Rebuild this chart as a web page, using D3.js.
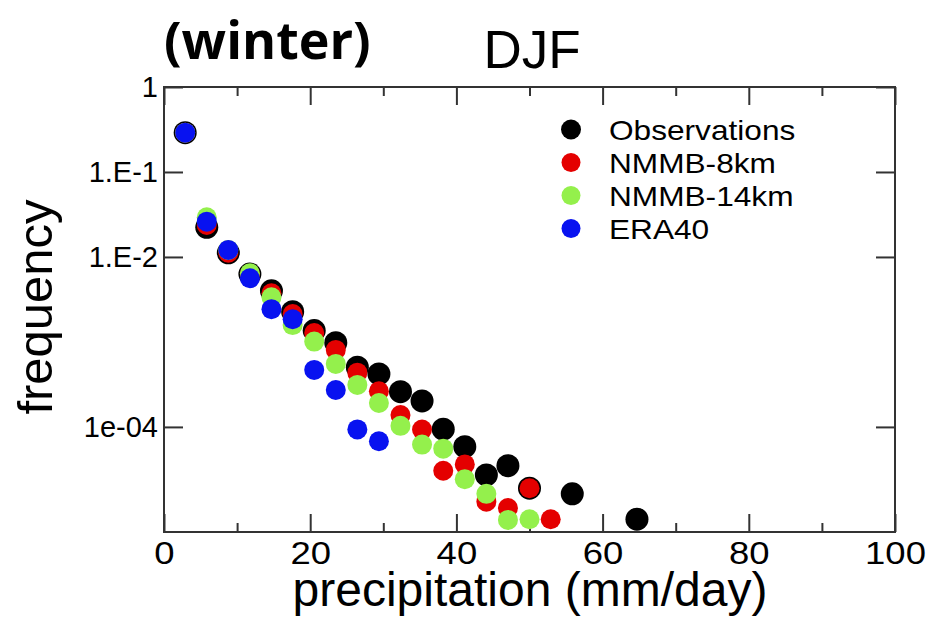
<!DOCTYPE html>
<html>
<head>
<meta charset="utf-8">
<script src="https://cdn.jsdelivr.net/npm/d3@7"></script>
<style>
body { margin: 0; background: #fff; }
svg { display: block; }
</style>
</head>
<body>
<script>
// bin centres (mm/day)
let precip = [2.9, 5.85, 8.8, 11.75, 14.7, 17.6, 20.55, 23.5, 26.45, 29.4, 32.35, 35.3, 38.2, 41.15, 44.1, 47.05, 50.0, 52.9, 55.85, 64.7]

let observations = [0.29, 0.0223, 0.0112, 0.0063, 0.0040, 0.00227, 0.00136, 0.00098, 0.000504, 0.00042, 0.00026, 0.000202, 9.4e-5, 5.86e-5, 2.72e-5, 3.5e-5, 1.9e-5, null, 1.63e-5, 8.2e-6]
let nmmb8 = [0.29, 0.0238, 0.0112, 0.0063, 0.00374, 0.00213, 0.00127, 0.000805, 0.000435, 0.000263, 0.000138, 9.3e-5, 3.05e-5, 3.62e-5, 1.32e-5, 1.11e-5, 1.9e-5, 8.2e-6, null, null]
let nmmb14 = [0.29, 0.0293, 0.0121, 0.00643, 0.00335, 0.00158, 0.00101, 0.000551, 0.000312, 0.000191, 0.000103, 6.19e-5, 5.55e-5, 2.43e-5, 1.63e-5, 8.05e-6, 8.2e-6, null, null, null]
let era40 = [0.29, 0.026, 0.0121, 0.00561, 0.00243, 0.00185, 0.000469, 0.000272, 9.35e-5, 6.79e-5, null, null, null, null, null, null, null, null, null, null]

let seriesNames = ["Observations", "NMMB-8km", "NMMB-14km", "ERA40"]
let seriesColors = ["#000000", "#e40000", "#94f04c", "#0812f0"]
let seriesValues = [observations, nmmb8, nmmb14, era40]

let xMajor = [0, 20, 40, 60, 80, 100]
let xMinor = [10, 30, 50, 70, 90]
let yTicks = [1, 1e-1, 1e-2, 1e-4]
let yTickLabels = ["1", "1.E-1", "1.E-2", "1e-04"]

let w = 926
let h = 623
let plotLeft = 164, plotRight = 895, plotTop = 87, plotBottom = 532
let font = "'Liberation Sans', Arial, sans-serif"

let svg = d3.select("body").append("svg")
  .attr("width", w)
  .attr("height", h)

let x = d3.scaleLinear().domain([0, 100]).range([plotLeft, plotRight])
let y = d3.scaleLog().domain([5.8e-6, 1]).range([plotBottom, plotTop])

// axes, ticks point inwards
let styleAxis = (g)=>{
  g.select(".domain").remove()
  g.selectAll(".tick line").attr("stroke", "#333").attr("stroke-width", 2)
  g.selectAll("text").attr("fill", "#000").style("font-family", font)
}

svg.append("g")
  .attr("transform", "translate(0," + plotBottom + ")")
  .call(d3.axisBottom(x).tickValues(xMajor).tickSize(-18).tickPadding(9).tickFormat(d3.format("d")))
  .call(styleAxis)
  .selectAll("text")
  .style("font-size", "32px")
  .attr("transform", "scale(1.14,1)")

svg.append("g")
  .attr("transform", "translate(0," + plotBottom + ")")
  .call(d3.axisBottom(x).tickValues(xMinor).tickSize(-9).tickFormat(""))
  .call(styleAxis)

svg.append("g")
  .attr("transform", "translate(0," + plotTop + ")")
  .call(d3.axisTop(x).tickValues(xMajor).tickSize(-18).tickFormat(""))
  .call(styleAxis)

svg.append("g")
  .attr("transform", "translate(0," + plotTop + ")")
  .call(d3.axisTop(x).tickValues(xMinor).tickSize(-9).tickFormat(""))
  .call(styleAxis)

svg.append("g")
  .attr("transform", "translate(" + plotLeft + ",0)")
  .call(d3.axisLeft(y).tickValues(yTicks).tickSize(-19).tickPadding(6)
    .tickFormat((d, i)=>yTickLabels[i]))
  .call(styleAxis)
  .selectAll("text").style("font-size", "29px")

svg.append("g")
  .attr("transform", "translate(" + plotRight + ",0)")
  .call(d3.axisRight(y).tickValues(yTicks).tickSize(-19).tickFormat(""))
  .call(styleAxis)

// frame
svg.append("rect")
  .attr("x", plotLeft)
  .attr("y", plotTop)
  .attr("width", plotRight - plotLeft)
  .attr("height", plotBottom - plotTop)
  .attr("fill", "none")
  .attr("stroke", "#333")
  .attr("stroke-width", 2)

// points, observations first so the models sit on top
seriesValues.forEach((vals, s)=>{
  let pts = precip.map((p, i)=>[p, vals[i]]).filter((d)=>d[1] != null)
  svg.append("g")
    .selectAll("circle")
    .data(pts)
    .enter()
    .append("circle")
    .attr("cx", (d)=>x(d[0]))
    .attr("cy", (d)=>y(d[1]))
    .attr("r", s == 0 ? 11.5 : 10)
    .attr("fill", seriesColors[s])
})

// legend
let legend = svg.append("g")
seriesNames.forEach((name, i)=>{
  let ly = 129.5 + i * 33
  legend.append("circle")
    .attr("cx", 571)
    .attr("cy", ly)
    .attr("r", i == 0 ? 10 : 9.5)
    .attr("fill", seriesColors[i])
  legend.append("text")
    .attr("transform", "translate(609," + (ly + 10) + ") scale(1.13,1)")
    .text(name)
    .style("font-family", font)
    .style("font-size", "28px")
})

// axis titles
svg.append("text")
  .attr("x", 530)
  .attr("y", 606)
  .attr("text-anchor", "middle")
  .text("precipitation (mm/day)")
  .style("font-family", font)
  .style("font-size", "48px")

svg.append("text")
  .attr("transform", "translate(52,307) rotate(-90)")
  .attr("text-anchor", "middle")
  .text("frequency")
  .style("font-family", font)
  .style("font-size", "49px")

svg.append("text")
  .attr("x", 532)
  .attr("y", 68)
  .attr("text-anchor", "middle")
  .text("DJF")
  .style("font-family", font)
  .style("font-size", "53px")

svg.append("text")
  .attr("x", 164)
  .attr("y", 59)
  .text("(winter)")
  .style("font-family", "'Open Sans', sans-serif")
  .style("font-weight", "bold")
  .style("font-size", "52px")
</script>
</body>
</html>
